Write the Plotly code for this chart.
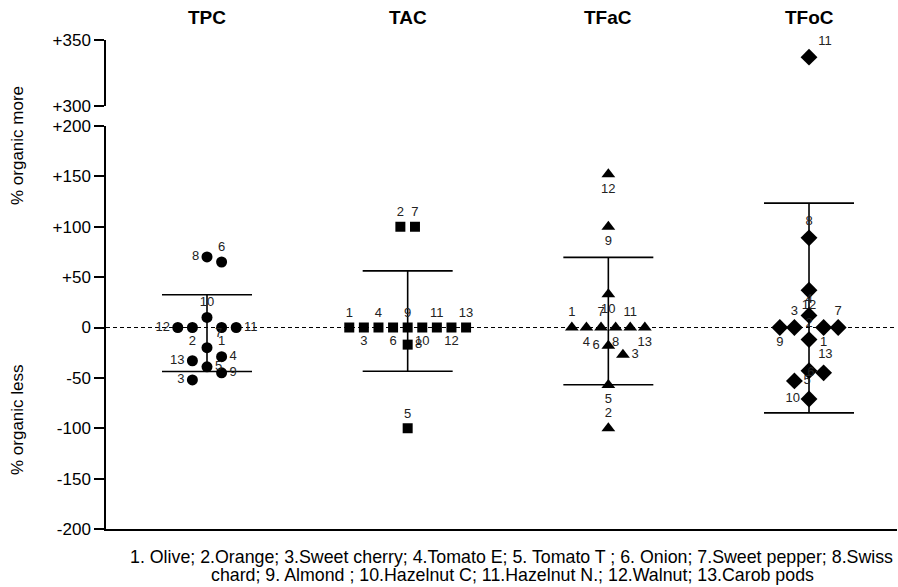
import numpy as np
import plotly.graph_objects as go

# ---------------- data ----------------
groups = ["TPC", "TAC", "TFaC", "TFoC"]
point_labels = [str(i) for i in range(1, 14)]
tpc = [0, 0, -52, -29, -39, 65, -20, 70, -45, 10, 0, 0, -33]
tac = [0, 100, 0, 0, -100, 0, 100, -17, 0, 0, 0, 0, 0]
tfac = [0, -100, -27, 0, -57, -18, 0, 0, 100, 33, 0, 152, 0]
tfoc = [0, -12, 0, 12, -53, -45, 0, 89, 0, -71, 337, 37, -43]
low_ticks = [-200, -150, -100, -50, 0, 50, 100, 150, 200]
high_ticks = [300, 350]
ytitle_more = "% organic more"
ytitle_less = "% organic less"
footnote_1 = "1. Olive; 2.Orange; 3.Sweet cherry; 4.Tomato E; 5. Tomato T ; 6. Onion; 7.Sweet pepper; 8.Swiss"
footnote_2 = "chard; 9. Almond ; 10.Hazelnut C; 11.Hazelnut N.; 12.Walnut; 13.Carob pods"

# ---------------- layout constants ----------------
W, H = 898, 587
ML, MR, MT, MB = 106, 1, 40, 58
PLOT_H = H - MT - MB
PLOT_W = W - ML - MR
LOW_H = 403
GAP = 20
LOW_DOM = [0, LOW_H / PLOT_H]
HIGH_DOM = [(LOW_H + GAP) / PLOT_H, 1]
LOW_RANGE = [-200, 200]
HIGH_RANGE = [300, 350]
COL_PX = 200.67
X0 = 1 - (207 - ML) / COL_PX
X_RANGE = [X0, X0 + PLOT_W / COL_PX]
PX_PER_X = COL_PX
FONT = "Liberation Sans, Arial, sans-serif"


def px_to_paper_x(px):
    return (px - ML) / PLOT_W


def px_to_paper_y(px):
    return (H - MB - px) / PLOT_H


symbols = ["circle", "square", "triangle-up", "diamond"]
sizes = [11, 10, 12, 13]
textpos = [
    ["bottom center", "bottom center", "middle left", "middle right", "middle right", "top center",
     "top right", "middle left", "middle right", "top center", "middle right", "middle left", "middle left"],
    ["top center", "top center", "bottom center", "top center", "top center", "bottom center", "top center",
     "middle right", "top center", "bottom center", "top center", "bottom center", "top center"],
    ["top center", "top center", "middle right", "bottom center", "bottom center", "middle left", "top center",
     "bottom center", "bottom center", "bottom center", "top center", "bottom center", "bottom center"],
    ["bottom center", "top center", "top center", "top center", "middle right", "middle left", "top center",
     "top center", "bottom center", "middle left", "top right", "bottom center", "top right"],
]


def to_px(v):
    if v > LOW_RANGE[1]:
        f = (v - HIGH_RANGE[0]) / (HIGH_RANGE[1] - HIGH_RANGE[0])
        return HIGH_DOM[0] * PLOT_H + f * (HIGH_DOM[1] - HIGH_DOM[0]) * PLOT_H
    f = (v - LOW_RANGE[0]) / (LOW_RANGE[1] - LOW_RANGE[0])
    return f * LOW_H


def swarm(values, slot_px=14.6, d=13.5):
    ys = [to_px(v) for v in values]
    order = sorted(range(len(values)), key=lambda i: (-values[i], i))
    placed = {}

    def free(x, y):
        return not any(abs(x - placed[j]) < d and abs(y - ys[j]) < d for j in placed)

    cands = [0]
    for s in range(1, 12):
        cands += [s, -s]
    k = 0
    while k < len(order):
        i = order[k]
        row = [j for j in order[k:] if values[j] == values[i]]
        n = len(row)
        done = False
        if n > 1:
            xs = [(m - (n - 1) / 2) * slot_px for m in range(n)]
            if all(free(x, ys[j]) for x, j in zip(xs, row)):
                for x, j in zip(xs, row):
                    placed[j] = x
                done = True
        if not done:
            for j in row:
                for c in cands:
                    if free(c * slot_px, ys[j]):
                        placed[j] = c * slot_px
                        break
        k += n
    return [placed[i] / PX_PER_X for i in range(len(values))]


fig = go.Figure()
series = [tpc, tac, tfac, tfoc]

for gi, vals in enumerate(series):
    c = gi + 1
    arr = np.array(vals, dtype=float)
    mean = arr.mean()
    sd = arr.std(ddof=1)
    fig.add_trace(go.Scatter(
        x=[c], y=[mean], mode="markers", marker=dict(size=1, opacity=0),
        error_y=dict(type="data", array=[sd], symmetric=True, width=45, thickness=1.6, color="black"),
        showlegend=False, hoverinfo="skip"))
    offs = swarm(vals)
    for axis, sel in (("y", [i for i, v in enumerate(vals) if v <= LOW_RANGE[1]]),
                      ("y2", [i for i, v in enumerate(vals) if v > LOW_RANGE[1]])):
        if not sel:
            continue
        fig.add_trace(go.Scatter(
            x=[c + offs[i] for i in sel], y=[vals[i] for i in sel],
            text=[point_labels[i] for i in sel],
            textposition=[textpos[gi][i] for i in sel],
            mode="markers+text", yaxis=axis,
            marker=dict(symbol=symbols[gi], size=sizes[gi], color="black", line=dict(width=0)),
            textfont=dict(family=FONT, size=13, color="#222222"),
            showlegend=False, cliponaxis=False))

fig.add_shape(type="line", xref="paper", x0=0, x1=1, yref="y", y0=0, y1=0,
              line=dict(color="black", width=1, dash="4px,3px"), layer="below")

axis_common = dict(showline=True, linecolor="black", linewidth=1.5, ticks="outside", ticklen=10,
                   tickwidth=1.5, tickcolor="black", showgrid=False, zeroline=False,
                   tickfont=dict(family=FONT, size=17, color="black"))

fig.update_layout(
    width=W, height=H, margin=dict(l=ML, r=MR, t=MT, b=MB),
    paper_bgcolor="white", plot_bgcolor="white",
    xaxis=dict(range=X_RANGE, showline=True, linecolor="black", linewidth=1.5, showticklabels=False,
               ticks="", showgrid=False, zeroline=False),
    yaxis=dict(domain=LOW_DOM, range=LOW_RANGE, tickvals=low_ticks,
               ticktext=[f"+{v}" if v > 0 else str(v) for v in low_ticks], **axis_common),
    yaxis2=dict(domain=HIGH_DOM, range=HIGH_RANGE, tickvals=high_ticks, anchor="x",
                ticktext=[f"+{v}" for v in high_ticks], **axis_common),
    showlegend=False,
)


def note(text, xpx, ypx, size, bold=False, angle=0, xanchor="center"):
    fig.add_annotation(x=px_to_paper_x(xpx), xref="paper", y=px_to_paper_y(ypx), yref="paper",
                       text=f"<b>{text}</b>" if bold else text, showarrow=False, textangle=angle,
                       xanchor=xanchor, yanchor="middle", borderpad=0,
                       font=dict(family=FONT, size=size, color="black"))


for gi, g in enumerate(groups):
    fig.add_annotation(x=gi + 1, xref="x", y=px_to_paper_y(18), yref="paper", text=f"<b>{g}</b>",
                       xanchor="center", yanchor="middle", showarrow=False,
                       font=dict(family=FONT, size=19, color="black"))

note(ytitle_more, 17, 146, 17, angle=-90)
note(ytitle_less, 17, 420, 17, angle=-90)
note(footnote_1, 894, 557, 17.8, xanchor="right")
note(footnote_2, 512, 575, 17.8)

fig.write_html("out.html", config={"displayModeBar": False},
               post_script="document.body.style.margin='0';")
